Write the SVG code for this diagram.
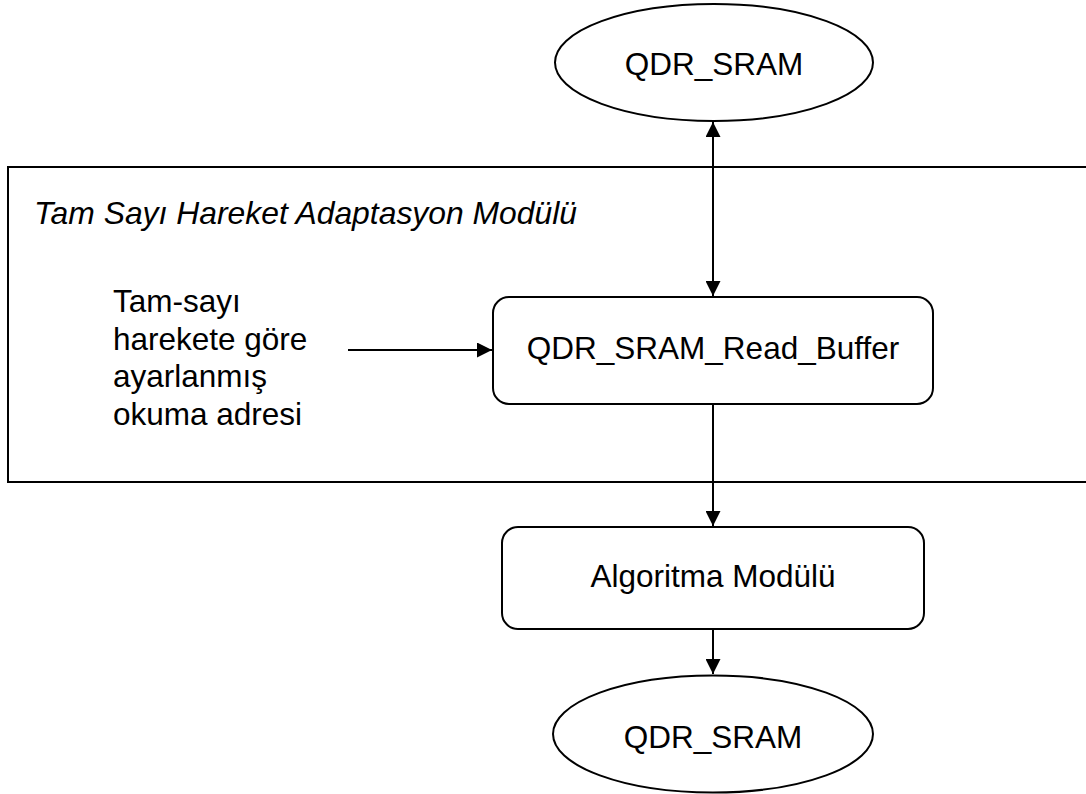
<svg xmlns="http://www.w3.org/2000/svg" width="1086" height="794" viewBox="0 0 1086 794">
  <style>
    .shape { fill: #ffffff; stroke: #000000; stroke-width: 2; }
    .frame { fill: none; stroke: #000000; stroke-width: 2; }
    .wire { fill: none; stroke: #000000; stroke-width: 2; }
    .label { font-family: "Liberation Sans", Arial, sans-serif; font-size: 31.5px; fill: #000000; }
    .title { font-size: 32px; font-style: italic; }
    .mid { text-anchor: middle; }
  </style>
  <defs>
    <marker id="arrowEnd" viewBox="0 0 10 10" refX="10" refY="5" markerWidth="7.5" markerHeight="7.5" markerUnits="strokeWidth" orient="auto">
      <path d="M0,0 L10,5 L0,10 z" fill="#000000"/>
    </marker>
    <marker id="arrowStart" viewBox="0 0 10 10" refX="0" refY="5" markerWidth="7.5" markerHeight="7.5" markerUnits="strokeWidth" orient="auto">
      <path d="M10,0 L0,5 L10,10 z" fill="#000000"/>
    </marker>
  </defs>

  <!-- module boundary, open to the right -->
  <g id="module-frame">
    <rect class="frame" x="8" y="167" width="1100" height="315"/>
    <text class="label title" x="34" y="224" textLength="543" lengthAdjust="spacingAndGlyphs">Tam Sayı Hareket Adaptasyon Modülü</text>
  </g>

  <g id="connectors">
    <line class="wire" x1="713" y1="122" x2="713" y2="296" marker-start="url(#arrowStart)" marker-end="url(#arrowEnd)"/>
    <line class="wire" x1="348" y1="350" x2="492" y2="350" marker-end="url(#arrowEnd)"/>
    <line class="wire" x1="713" y1="405" x2="713" y2="526" marker-end="url(#arrowEnd)"/>
    <line class="wire" x1="713" y1="630" x2="713" y2="674" marker-end="url(#arrowEnd)"/>
  </g>

  <g id="sram-top">
    <ellipse class="shape" cx="714" cy="62.5" rx="159" ry="58.5"/>
    <text class="label mid" x="714" y="75">QDR_SRAM</text>
  </g>

  <g id="read-buffer">
    <rect class="shape" x="493" y="297" width="440" height="107" rx="16" ry="16"/>
    <text class="label mid" x="713" y="359">QDR_SRAM_Read_Buffer</text>
  </g>

  <g id="address-input">
    <text class="label" x="113" y="312">Tam-sayı</text>
    <text class="label" x="113" y="350">harekete göre</text>
    <text class="label" x="113" y="387">ayarlanmış</text>
    <text class="label" x="113" y="425">okuma adresi</text>
  </g>

  <g id="algorithm">
    <rect class="shape" x="502" y="527" width="422" height="102" rx="16" ry="16"/>
    <text class="label mid" x="713" y="587">Algoritma Modülü</text>
  </g>

  <g id="sram-bottom">
    <ellipse class="shape" cx="713" cy="734" rx="160" ry="58.5"/>
    <text class="label mid" x="713" y="748">QDR_SRAM</text>
  </g>
</svg>
